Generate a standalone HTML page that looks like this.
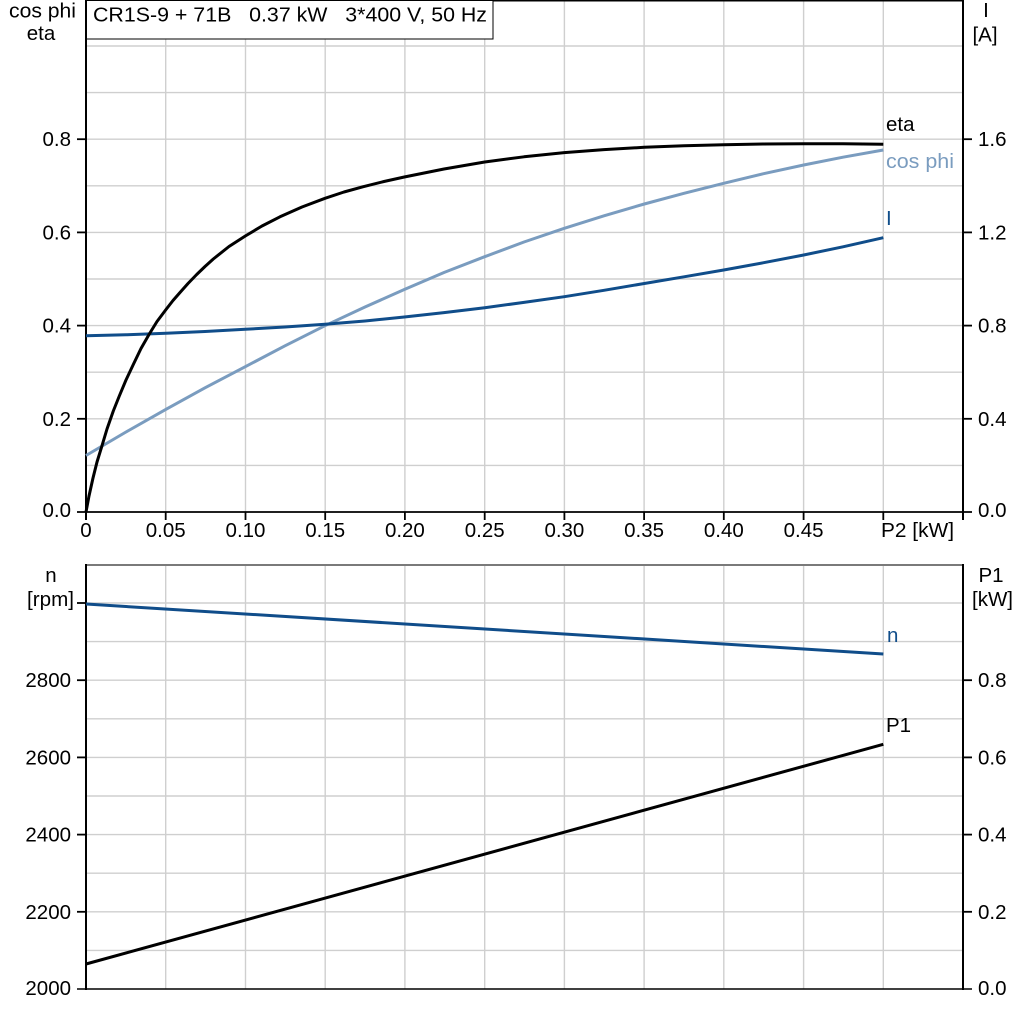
<!DOCTYPE html>
<html>
<head>
<meta charset="utf-8">
<style>
  html,body{margin:0;padding:0;background:#fff;}
  svg{display:block;}
  text{font-family:"Liberation Sans", Arial, sans-serif;font-size:20.5px;fill:#000;}
</style>
</head>
<body>
<svg width="1024" height="1024" viewBox="0 0 1024 1024" xmlns="http://www.w3.org/2000/svg">
  <rect x="0" y="0" width="1024" height="1024" fill="#fff"/>

  <!-- ===== TOP CHART ===== -->
  <g stroke="#cfcfcf" stroke-width="1.4">
    <line x1="165.7" y1="0" x2="165.7" y2="512"/>
    <line x1="245.5" y1="0" x2="245.5" y2="512"/>
    <line x1="325.2" y1="0" x2="325.2" y2="512"/>
    <line x1="404.9" y1="0" x2="404.9" y2="512"/>
    <line x1="484.7" y1="0" x2="484.7" y2="512"/>
    <line x1="564.4" y1="0" x2="564.4" y2="512"/>
    <line x1="644.1" y1="0" x2="644.1" y2="512"/>
    <line x1="723.8" y1="0" x2="723.8" y2="512"/>
    <line x1="803.6" y1="0" x2="803.6" y2="512"/>
    <line x1="883.3" y1="0" x2="883.3" y2="512"/>
    <line x1="86" y1="465.4" x2="963" y2="465.4"/>
    <line x1="86" y1="418.8" x2="963" y2="418.8"/>
    <line x1="86" y1="372.2" x2="963" y2="372.2"/>
    <line x1="86" y1="325.6" x2="963" y2="325.6"/>
    <line x1="86" y1="279" x2="963" y2="279"/>
    <line x1="86" y1="232.4" x2="963" y2="232.4"/>
    <line x1="86" y1="185.8" x2="963" y2="185.8"/>
    <line x1="86" y1="139.2" x2="963" y2="139.2"/>
    <line x1="86" y1="92.6" x2="963" y2="92.6"/>
    <line x1="86" y1="46" x2="963" y2="46"/>
  </g>

  <g stroke="#000" fill="none">
    <line x1="86" y1="0.7" x2="963" y2="0.7" stroke-width="1.5"/>
    <line x1="86" y1="0" x2="86" y2="520" stroke-width="2"/>
    <line x1="963" y1="0" x2="963" y2="520" stroke-width="2"/>
    <line x1="77" y1="512" x2="972" y2="512" stroke-width="1.8"/>
    <line x1="77" y1="418.8" x2="86" y2="418.8" stroke-width="1.8"/>
    <line x1="77" y1="325.6" x2="86" y2="325.6" stroke-width="1.8"/>
    <line x1="77" y1="232.4" x2="86" y2="232.4" stroke-width="1.8"/>
    <line x1="77" y1="139.2" x2="86" y2="139.2" stroke-width="1.8"/>
    <line x1="963" y1="418.8" x2="972" y2="418.8" stroke-width="1.8"/>
    <line x1="963" y1="325.6" x2="972" y2="325.6" stroke-width="1.8"/>
    <line x1="963" y1="232.4" x2="972" y2="232.4" stroke-width="1.8"/>
    <line x1="963" y1="139.2" x2="972" y2="139.2" stroke-width="1.8"/>
    <line x1="165.7" y1="512" x2="165.7" y2="520" stroke-width="1.8"/>
    <line x1="245.5" y1="512" x2="245.5" y2="520" stroke-width="1.8"/>
    <line x1="325.2" y1="512" x2="325.2" y2="520" stroke-width="1.8"/>
    <line x1="404.9" y1="512" x2="404.9" y2="520" stroke-width="1.8"/>
    <line x1="484.7" y1="512" x2="484.7" y2="520" stroke-width="1.8"/>
    <line x1="564.4" y1="512" x2="564.4" y2="520" stroke-width="1.8"/>
    <line x1="644.1" y1="512" x2="644.1" y2="520" stroke-width="1.8"/>
    <line x1="723.8" y1="512" x2="723.8" y2="520" stroke-width="1.8"/>
    <line x1="803.6" y1="512" x2="803.6" y2="520" stroke-width="1.8"/>
    <line x1="883.3" y1="512" x2="883.3" y2="520" stroke-width="1.8"/>
  </g>

  <g fill="none" stroke-width="3" stroke-linejoin="round" stroke-linecap="butt">
    <polyline stroke="#7a9cbf" points="86,455.5 126,432 166,409.3 205,387.8 245.3,366.7 285,345.8 325,325.7 365,307 404.3,289.5 444,272.5 484.7,256.7 524,242 564.3,228.3 604,215.8 644.3,204 684,193.3 723.7,183.3 763,173.8 803.7,165 843,157.2 883.3,150"/>
    <polyline stroke="#104d8a" points="86,335.7 126,334.8 166,333.3 205,331.5 245.3,329.3 285,327 325,324.3 365,321 404.3,317 444,312.6 484.7,307.7 524,302.4 564.3,296.7 604,290.3 644.3,283.5 684,276.8 723.7,270 763,262.8 803.7,255 843,246.8 883.3,237.7"/>
    <polyline stroke="#000" points="86,512 89,496 93,478 97,462 101.7,446.7 107,429 113.3,411 119.3,396 126,380 133.3,364.5 141,348.5 149.3,334 157,321.5 166,309.5 173,300.5 180,292.5 188,283.5 196.7,274.5 205,266.5 213.3,259 229,246.5 245.3,236 262,226 280,216.8 302,207 325,198.3 344,192 363.3,186.7 384,181.5 404.3,177 444,169 484.7,162 524,156.8 564.3,152.6 604,149.6 644.3,147.3 684,145.8 723.7,144.7 763,144 803.7,143.7 843,143.8 883.3,144.2"/>
  </g>

  <rect x="86.5" y="0.5" width="406.5" height="38.5" fill="#fff" stroke="#000" stroke-width="1"/>
  <text x="93" y="21.5" textLength="394" lengthAdjust="spacingAndGlyphs" xml:space="preserve">CR1S-9 + 71B   0.37 kW   3*400 V, 50 Hz</text>

  <text x="9" y="17.5" textLength="67" lengthAdjust="spacingAndGlyphs">cos phi</text>
  <text x="41" y="40" text-anchor="middle">eta</text>
  <text x="986" y="17" text-anchor="middle">I</text>
  <text x="985" y="41.5" text-anchor="middle">[A]</text>

  <g text-anchor="end">
    <text x="71" y="517">0.0</text>
    <text x="71" y="425.8">0.2</text>
    <text x="71" y="332.6">0.4</text>
    <text x="71" y="239.4">0.6</text>
    <text x="71" y="146">0.8</text>
  </g>
  <g>
    <text x="978" y="517">0.0</text>
    <text x="978" y="425.8">0.4</text>
    <text x="978" y="332.6">0.8</text>
    <text x="978" y="239.4">1.2</text>
    <text x="978" y="146">1.6</text>
  </g>
  <g text-anchor="middle">
    <text x="86" y="537">0</text>
    <text x="165.7" y="537">0.05</text>
    <text x="245.5" y="537">0.10</text>
    <text x="325.2" y="537">0.15</text>
    <text x="404.9" y="537">0.20</text>
    <text x="484.7" y="537">0.25</text>
    <text x="564.4" y="537">0.30</text>
    <text x="644.1" y="537">0.35</text>
    <text x="723.8" y="537">0.40</text>
    <text x="803.6" y="537">0.45</text>
  </g>
  <text x="881" y="537" textLength="73" lengthAdjust="spacingAndGlyphs">P2 [kW]</text>

  <text x="886" y="131">eta</text>
  <text x="886" y="168" style="fill:#7a9cbf" textLength="68" lengthAdjust="spacingAndGlyphs">cos phi</text>
  <text x="886" y="225" style="fill:#104d8a">I</text>

  <!-- ===== BOTTOM CHART ===== -->
  <g stroke="#cfcfcf" stroke-width="1.4">
    <line x1="165.7" y1="565" x2="165.7" y2="989"/>
    <line x1="245.5" y1="565" x2="245.5" y2="989"/>
    <line x1="325.2" y1="565" x2="325.2" y2="989"/>
    <line x1="404.9" y1="565" x2="404.9" y2="989"/>
    <line x1="484.7" y1="565" x2="484.7" y2="989"/>
    <line x1="564.4" y1="565" x2="564.4" y2="989"/>
    <line x1="644.1" y1="565" x2="644.1" y2="989"/>
    <line x1="723.8" y1="565" x2="723.8" y2="989"/>
    <line x1="803.6" y1="565" x2="803.6" y2="989"/>
    <line x1="883.3" y1="565" x2="883.3" y2="989"/>
    <line x1="86" y1="950.4" x2="963" y2="950.4"/>
    <line x1="86" y1="911.8" x2="963" y2="911.8"/>
    <line x1="86" y1="873.2" x2="963" y2="873.2"/>
    <line x1="86" y1="834.6" x2="963" y2="834.6"/>
    <line x1="86" y1="796" x2="963" y2="796"/>
    <line x1="86" y1="757.4" x2="963" y2="757.4"/>
    <line x1="86" y1="718.8" x2="963" y2="718.8"/>
    <line x1="86" y1="680.2" x2="963" y2="680.2"/>
    <line x1="86" y1="641.6" x2="963" y2="641.6"/>
    <line x1="86" y1="603" x2="963" y2="603"/>
  </g>

  <g stroke="#000" fill="none">
    <line x1="86" y1="565" x2="963" y2="565" stroke="#7a7a7a" stroke-width="2"/>
    <line x1="86" y1="564" x2="86" y2="990" stroke-width="2"/>
    <line x1="963" y1="564" x2="963" y2="990" stroke-width="2"/>
    <line x1="77" y1="989" x2="972" y2="989" stroke-width="1.5"/>
    <line x1="77" y1="911.8" x2="86" y2="911.8" stroke-width="1.8"/>
    <line x1="77" y1="834.6" x2="86" y2="834.6" stroke-width="1.8"/>
    <line x1="77" y1="757.4" x2="86" y2="757.4" stroke-width="1.8"/>
    <line x1="77" y1="680.2" x2="86" y2="680.2" stroke-width="1.8"/>
    <line x1="77" y1="603" x2="86" y2="603" stroke-width="1.8"/>
    <line x1="963" y1="911.8" x2="972" y2="911.8" stroke-width="1.8"/>
    <line x1="963" y1="834.6" x2="972" y2="834.6" stroke-width="1.8"/>
    <line x1="963" y1="757.4" x2="972" y2="757.4" stroke-width="1.8"/>
    <line x1="963" y1="680.2" x2="972" y2="680.2" stroke-width="1.8"/>
  </g>

  <g fill="none" stroke-width="3" stroke-linejoin="round">
    <line x1="86" y1="604" x2="883.3" y2="654" stroke="#104d8a"/>
    <line x1="86" y1="964" x2="883.3" y2="744.3" stroke="#000"/>
  </g>

  <text x="51" y="582" text-anchor="middle">n</text>
  <text x="27" y="606" textLength="47" lengthAdjust="spacingAndGlyphs">[rpm]</text>
  <text x="991" y="582" text-anchor="middle">P1</text>
  <text x="972" y="606" textLength="41" lengthAdjust="spacingAndGlyphs">[kW]</text>

  <g text-anchor="end">
    <text x="71" y="995">2000</text>
    <text x="71" y="919">2200</text>
    <text x="71" y="841.6">2400</text>
    <text x="71" y="764.4">2600</text>
    <text x="71" y="687.2">2800</text>
  </g>
  <g>
    <text x="978" y="995">0.0</text>
    <text x="978" y="919">0.2</text>
    <text x="978" y="841.6">0.4</text>
    <text x="978" y="764.4">0.6</text>
    <text x="978" y="687.2">0.8</text>
  </g>

  <text x="887" y="642" style="fill:#104d8a">n</text>
  <text x="886" y="732">P1</text>
</svg>
</body>
</html>
